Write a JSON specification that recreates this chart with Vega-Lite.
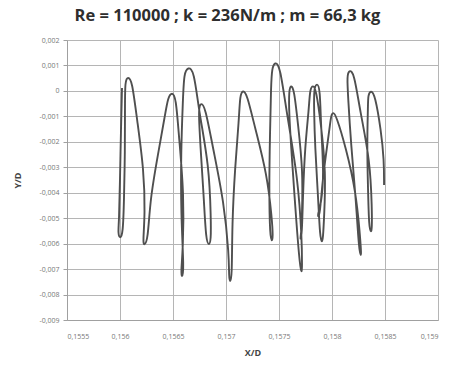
{
  "$schema": "https://vega.github.io/schema/vega-lite/v6.json",
  "autosize": {"type": "none"},
  "width": 371,
  "height": 280,
  "padding": {"left": 67, "top": 40, "right": 11, "bottom": 50},
  "background": "white",
  "title": {
    "text": "Re = 110000 ; k = 236N/m ; m = 66,3 kg",
    "font": "Open Sans",
    "fontSize": 16.5,
    "fontWeight": "bold",
    "color": "#2e2e2e",
    "anchor": "middle",
    "dx": -25,
    "offset": 12
  },
  "config": {
    "view": {"stroke": null},
    "axis": {
      "labelFont": "Open Sans",
      "labelFontSize": 7,
      "labelColor": "#777777",
      "titleFont": "Open Sans",
      "titleFontSize": 9,
      "titleFontWeight": "bold",
      "titleColor": "#444444",
      "gridColor": "#b5b5b5",
      "gridWidth": 1,
      "domainColor": "#a0a0a0",
      "tickColor": "#a0a0a0",
      "tickSize": 4
    }
  },
  "data": {
    "values": [
      {"i": 1, "x": 0.156019, "y": 0.000114},
      {"i": 2, "x": 0.156009, "y": -0.001536},
      {"i": 3, "x": 0.156000, "y": -0.003501},
      {"i": 4, "x": 0.155991, "y": -0.005151},
      {"i": 5, "x": 0.155981, "y": -0.005583},
      {"i": 6, "x": 0.156000, "y": -0.005819},
      {"i": 7, "x": 0.156028, "y": -0.005622},
      {"i": 8, "x": 0.156038, "y": -0.004286},
      {"i": 9, "x": 0.156047, "y": -0.002322},
      {"i": 10, "x": 0.156047, "y": -0.00075},
      {"i": 11, "x": 0.156047, "y": 0.000428},
      {"i": 12, "x": 0.156076, "y": 0.000546},
      {"i": 13, "x": 0.156113, "y": 0.000428},
      {"i": 14, "x": 0.15616, "y": -0.001104},
      {"i": 15, "x": 0.156226, "y": -0.003108},
      {"i": 16, "x": 0.156236, "y": -0.004876},
      {"i": 17, "x": 0.156217, "y": -0.005897},
      {"i": 18, "x": 0.156226, "y": -0.006094},
      {"i": 19, "x": 0.156264, "y": -0.005858},
      {"i": 20, "x": 0.156283, "y": -0.004286},
      {"i": 21, "x": 0.156359, "y": -0.002479},
      {"i": 22, "x": 0.156425, "y": -0.000947},
      {"i": 23, "x": 0.156453, "y": -0.00024},
      {"i": 24, "x": 0.156491, "y": -0.000043},
      {"i": 25, "x": 0.156528, "y": -0.00024},
      {"i": 26, "x": 0.156557, "y": -0.00185},
      {"i": 27, "x": 0.156604, "y": -0.004051},
      {"i": 28, "x": 0.156594, "y": -0.006251},
      {"i": 29, "x": 0.156575, "y": -0.007115},
      {"i": 30, "x": 0.156585, "y": -0.007351},
      {"i": 31, "x": 0.156604, "y": -0.007076},
      {"i": 32, "x": 0.156575, "y": -0.004876},
      {"i": 33, "x": 0.156575, "y": -0.002361},
      {"i": 34, "x": 0.156594, "y": -0.000318},
      {"i": 35, "x": 0.156604, "y": 0.000703},
      {"i": 36, "x": 0.156642, "y": 0.000939},
      {"i": 37, "x": 0.156698, "y": 0.000821},
      {"i": 38, "x": 0.156745, "y": -0.000829},
      {"i": 39, "x": 0.15684, "y": -0.002911},
      {"i": 40, "x": 0.156858, "y": -0.005033},
      {"i": 41, "x": 0.156858, "y": -0.005858},
      {"i": 42, "x": 0.15684, "y": -0.006094},
      {"i": 43, "x": 0.156811, "y": -0.005858},
      {"i": 44, "x": 0.156792, "y": -0.004286},
      {"i": 45, "x": 0.156764, "y": -0.002518},
      {"i": 46, "x": 0.156745, "y": -0.001143},
      {"i": 47, "x": 0.156745, "y": -0.000632},
      {"i": 48, "x": 0.156764, "y": -0.000475},
      {"i": 49, "x": 0.156802, "y": -0.000593},
      {"i": 50, "x": 0.156877, "y": -0.002243},
      {"i": 51, "x": 0.156981, "y": -0.004365},
      {"i": 52, "x": 0.157028, "y": -0.006447},
      {"i": 53, "x": 0.157028, "y": -0.007312},
      {"i": 54, "x": 0.157038, "y": -0.007547},
      {"i": 55, "x": 0.157057, "y": -0.007312},
      {"i": 56, "x": 0.157057, "y": -0.005269},
      {"i": 57, "x": 0.157085, "y": -0.00299},
      {"i": 58, "x": 0.157123, "y": -0.001104},
      {"i": 59, "x": 0.157132, "y": -0.000161},
      {"i": 60, "x": 0.15716, "y": 0.000035},
      {"i": 61, "x": 0.157198, "y": -0.000122},
      {"i": 62, "x": 0.157274, "y": -0.001458},
      {"i": 63, "x": 0.157387, "y": -0.003265},
      {"i": 64, "x": 0.157434, "y": -0.005033},
      {"i": 65, "x": 0.157443, "y": -0.00574},
      {"i": 66, "x": 0.157434, "y": -0.005937},
      {"i": 67, "x": 0.157415, "y": -0.00574},
      {"i": 68, "x": 0.157406, "y": -0.003815},
      {"i": 69, "x": 0.157415, "y": -0.001693},
      {"i": 70, "x": 0.157425, "y": 0.000232},
      {"i": 71, "x": 0.157434, "y": 0.0009},
      {"i": 72, "x": 0.157462, "y": 0.001136},
      {"i": 73, "x": 0.157509, "y": 0.001018},
      {"i": 74, "x": 0.157575, "y": -0.000947},
      {"i": 75, "x": 0.157679, "y": -0.003422},
      {"i": 76, "x": 0.157717, "y": -0.005897},
      {"i": 77, "x": 0.157717, "y": -0.006919},
      {"i": 78, "x": 0.157717, "y": -0.007155},
      {"i": 79, "x": 0.157698, "y": -0.006958},
      {"i": 80, "x": 0.15766, "y": -0.004954},
      {"i": 81, "x": 0.157623, "y": -0.002715},
      {"i": 82, "x": 0.157594, "y": -0.000868},
      {"i": 83, "x": 0.157594, "y": 0.000035},
      {"i": 84, "x": 0.157613, "y": 0.000232},
      {"i": 85, "x": 0.157642, "y": 0.000075},
      {"i": 86, "x": 0.157679, "y": -0.0013},
      {"i": 87, "x": 0.157726, "y": -0.003108},
      {"i": 88, "x": 0.157717, "y": -0.004954},
      {"i": 89, "x": 0.157708, "y": -0.005662},
      {"i": 90, "x": 0.157698, "y": -0.005858},
      {"i": 91, "x": 0.157717, "y": -0.005701},
      {"i": 92, "x": 0.157726, "y": -0.004051},
      {"i": 93, "x": 0.157745, "y": -0.002204},
      {"i": 94, "x": 0.157783, "y": -0.000672},
      {"i": 95, "x": 0.157792, "y": 0.000075},
      {"i": 96, "x": 0.157821, "y": 0.000232},
      {"i": 97, "x": 0.157849, "y": 0.000075},
      {"i": 98, "x": 0.157896, "y": -0.0013},
      {"i": 99, "x": 0.157943, "y": -0.003186},
      {"i": 100, "x": 0.157925, "y": -0.005033},
      {"i": 101, "x": 0.157915, "y": -0.005779},
      {"i": 102, "x": 0.157906, "y": -0.005976},
      {"i": 103, "x": 0.157887, "y": -0.005779},
      {"i": 104, "x": 0.157868, "y": -0.00409},
      {"i": 105, "x": 0.15784, "y": -0.002204},
      {"i": 106, "x": 0.15783, "y": -0.000672},
      {"i": 107, "x": 0.15783, "y": 0.000114},
      {"i": 108, "x": 0.157859, "y": 0.000311},
      {"i": 109, "x": 0.157887, "y": 0.000114},
      {"i": 110, "x": 0.157896, "y": -0.001458},
      {"i": 111, "x": 0.157925, "y": -0.003304},
      {"i": 112, "x": 0.157896, "y": -0.004483},
      {"i": 113, "x": 0.157868, "y": -0.004797},
      {"i": 114, "x": 0.157868, "y": -0.004994},
      {"i": 115, "x": 0.157887, "y": -0.004797},
      {"i": 116, "x": 0.157906, "y": -0.003736},
      {"i": 117, "x": 0.157943, "y": -0.002479},
      {"i": 118, "x": 0.157981, "y": -0.00134},
      {"i": 119, "x": 0.157991, "y": -0.000986},
      {"i": 120, "x": 0.158009, "y": -0.000829},
      {"i": 121, "x": 0.158038, "y": -0.000947},
      {"i": 122, "x": 0.158132, "y": -0.002243},
      {"i": 123, "x": 0.158226, "y": -0.003972},
      {"i": 124, "x": 0.158264, "y": -0.005662},
      {"i": 125, "x": 0.158274, "y": -0.00629},
      {"i": 126, "x": 0.158274, "y": -0.006526},
      {"i": 127, "x": 0.158255, "y": -0.00629},
      {"i": 128, "x": 0.158226, "y": -0.004286},
      {"i": 129, "x": 0.158179, "y": -0.002086},
      {"i": 130, "x": 0.158151, "y": -0.0002},
      {"i": 131, "x": 0.158142, "y": 0.000586},
      {"i": 132, "x": 0.15816, "y": 0.000821},
      {"i": 133, "x": 0.158208, "y": 0.000743},
      {"i": 134, "x": 0.158264, "y": -0.00079},
      {"i": 135, "x": 0.158359, "y": -0.002715},
      {"i": 136, "x": 0.158377, "y": -0.00464},
      {"i": 137, "x": 0.158377, "y": -0.005387},
      {"i": 138, "x": 0.158368, "y": -0.005583},
      {"i": 139, "x": 0.158349, "y": -0.005347},
      {"i": 140, "x": 0.15834, "y": -0.003894},
      {"i": 141, "x": 0.15833, "y": -0.002125},
      {"i": 142, "x": 0.15834, "y": -0.000554},
      {"i": 143, "x": 0.15834, "y": -0.000161},
      {"i": 144, "x": 0.158368, "y": 0.000035},
      {"i": 145, "x": 0.158406, "y": -0.000161},
      {"i": 146, "x": 0.158462, "y": -0.001536},
      {"i": 147, "x": 0.158491, "y": -0.002715},
      {"i": 148, "x": 0.158491, "y": -0.003697}
    ]
  },
  "mark": {"type": "line", "interpolate": "basis", "color": "#4f4f4f", "strokeWidth": 1.9},
  "encoding": {
    "order": {"field": "i", "type": "quantitative"},
    "x": {
      "field": "x",
      "type": "quantitative",
      "scale": {"domain": [0.1555, 0.159], "zero": false, "nice": false},
      "axis": {
        "title": "X/D",
        "values": [0.1555, 0.156, 0.1565, 0.157, 0.1575, 0.158, 0.1585, 0.159],
        "labelExpr": "replace(format(datum.value, '.4~f'), '.', ',')",
        "labelPadding": 12,
        "titlePadding": 9,
        "ticks": false
      }
    },
    "y": {
      "field": "y",
      "type": "quantitative",
      "scale": {"domain": [-0.009, 0.002], "zero": false, "nice": false},
      "axis": {
        "title": "Y/D",
        "values": [-0.009, -0.008, -0.007, -0.006, -0.005, -0.004, -0.003, -0.002, -0.001, 0, 0.001, 0.002],
        "labelExpr": "replace(replace(format(datum.value, '.3~f'), '.', ','), '\u2212', '-')",
        "labelPadding": 4,
        "titlePadding": 16
      }
    }
  }
}
